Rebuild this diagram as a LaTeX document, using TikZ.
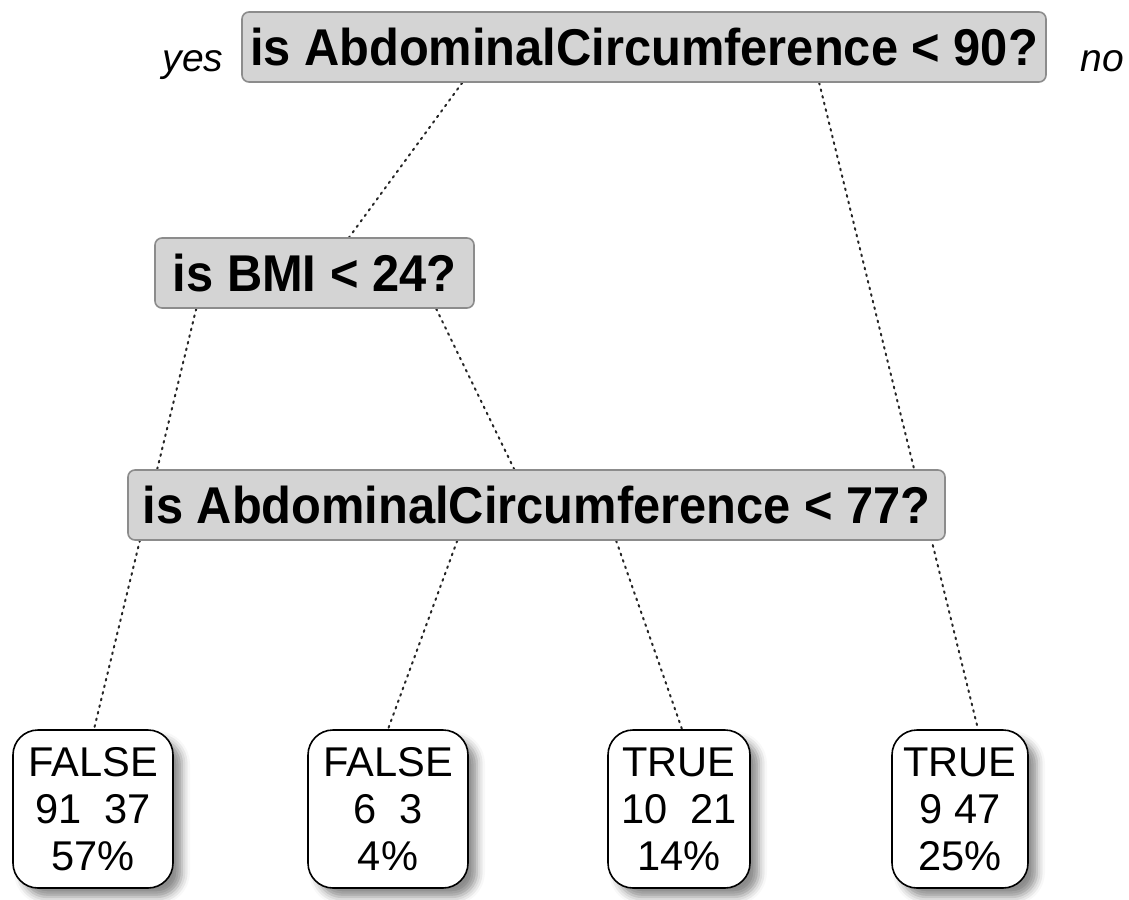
\documentclass[tikz,border=0pt]{standalone}
\usepackage{fontspec}
\setmainfont{Liberation Sans}
\usetikzlibrary{shadows.blur,backgrounds,calc}
\newcommand{\tallq}[1]{\scalebox{1}[1.06]{#1}}
\begin{document}
\begin{tikzpicture}[x=0.5pt,y=-0.5pt,
  split/.style={draw=black!45, fill=black!17, rounded corners=3.5pt, line width=0.8pt, inner sep=0pt, minimum height=35pt, font=\fontsize{24.4}{28}\selectfont\bfseries},
  leaf/.style={draw=black, fill=white, rounded corners=12.5pt, line width=0.8pt, inner sep=0pt, minimum height=79pt, align=center, font=\fontsize{20.8}{23.5}\selectfont, blur shadow={shadow xshift=4.5pt, shadow yshift=-4.5pt, shadow blur radius=4pt, shadow opacity=45}},
  branch/.style={line width=1pt, black!85, dash pattern=on 0.9pt off 2.5pt, line cap=round},
  lab/.style={font=\fontsize{19.5}{22}\selectfont\itshape, inner sep=0pt, anchor=base}]
\useasboundingbox (0,0) rectangle (1129,899);
\node[split, minimum width=402pt] (top) at (644,47) {\tallq{is AbdominalCircumference < 90?}};
\node[split, minimum width=159.5pt] (bmi) at (314.5,273) {\tallq{is BMI < 24?}};
\node[split, minimum width=408.5pt] (node3) at (536.5,505) {\tallq{is AbdominalCircumference < 77?}};
\node[leaf, minimum width=80pt] (leaf1) at (93,809) {FALSE\\91~~37\\57\%};
\node[leaf, minimum width=80pt] (leaf2) at (388,809) {FALSE\\6~~3\\4\%};
\node[leaf, minimum width=71pt] (leaf3) at (679,809) {TRUE\\10~~21\\14\%};
\node[leaf, minimum width=68pt] (leaf4) at (960,809) {TRUE\\9~47\\25\%};
\node[lab] (yes) at (193,72) {yes};
\node[lab] (no) at (1102,72) {no};
\begin{scope}[on background layer]
\draw[branch] ($(top.south west)+(221,0)$) -- ($(bmi.north west)+(195,0)$);
\draw[branch] ($(top.south west)+(578,0)$) -- ($(leaf4.north)+(18,0)$);
\draw[branch] ($(bmi.south west)+(42,0)$) -- ($(leaf1.north)+(1,0)$);
\draw[branch] ($(bmi.south west)+(282,0)$) -- ($(node3.north west)+(387,0)$);
\draw[branch] ($(node3.south west)+(330,0)$) -- (leaf2.north);
\draw[branch] ($(node3.south west)+(489,0)$) -- ($(leaf3.north)+(3,0)$);
\end{scope}
\end{tikzpicture}
\end{document}
